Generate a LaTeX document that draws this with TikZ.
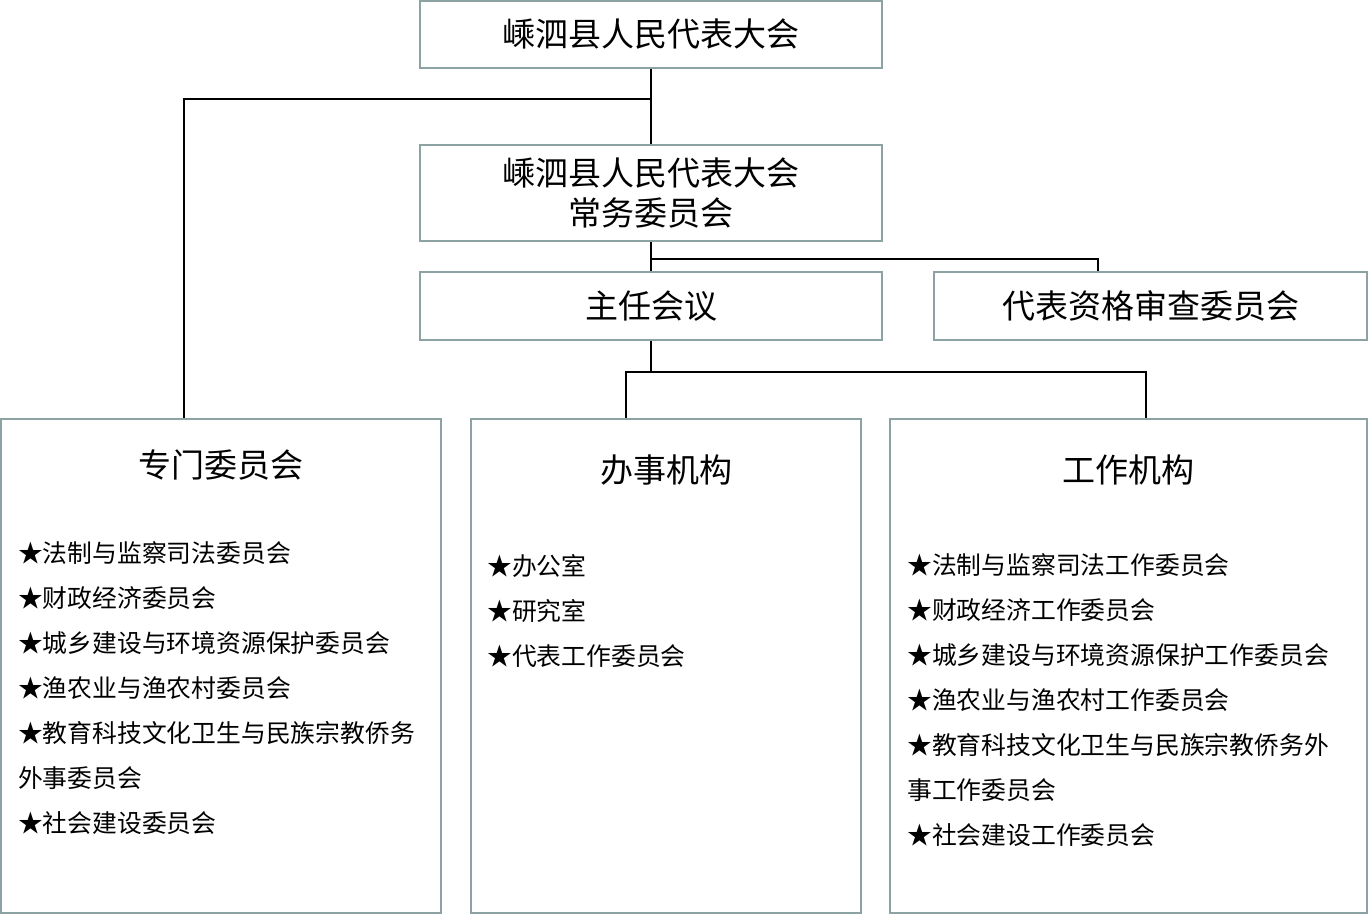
\documentclass[tikz,border=0pt]{standalone}
\usepackage{fontspec}
\setmainfont{Noto Sans CJK SC}
\usetikzlibrary{calc}
\definecolor{boxgrey}{HTML}{8DA3A3}
\tikzset{
  box/.style={draw=boxgrey, line width=1.8pt, fill=white, inner sep=0pt, align=center,
    font=\fontsize{33}{40}\selectfont},
  title/.style={inner sep=0pt, font=\fontsize{33}{40}\selectfont},
  item/.style={inner sep=0pt, anchor=west, font=\fontsize{24.8}{30}\selectfont},
  conn/.style={draw=black, line width=1.8pt}
}
\begin{document}
\begin{tikzpicture}[x=1pt,y=-1pt]
\useasboundingbox (0,0) rectangle (1369,915);
% boxes
\node[box, minimum width=462pt, minimum height=67pt] (top) at (651,34.5) {嵊泗县人民代表大会};
\node[box, minimum width=462pt, minimum height=96pt] (std) at (651,193) {嵊泗县人民代表大会\\常务委员会};
\node[box, minimum width=462pt, minimum height=68pt] (zr) at (651,306) {主任会议};
\node[box, minimum width=433pt, minimum height=68pt] (db) at (1150.5,306) {代表资格审查委员会};
\node[box, minimum width=440pt, minimum height=494pt] (zm) at (221,666) {};
\node[box, minimum width=390pt, minimum height=494pt] (bs) at (666,666) {};
\node[box, minimum width=477pt, minimum height=494pt] (gz) at (1128.5,666) {};
% titles
\node[title] (zmt) at (221,465) {专门委员会};
\node[title] (bst) at (666,470) {办事机构};
\node[title] (gzt) at (1128.5,470) {工作机构};
% left list
\node[item] (zm1) at (18,553) {★法制与监察司法委员会};
\node[item] (zm2) at (18,598) {★财政经济委员会};
\node[item] (zm3) at (18,643) {★城乡建设与环境资源保护委员会};
\node[item] (zm4) at (18,688) {★渔农业与渔农村委员会};
\node[item] (zm5) at (18,733) {★教育科技文化卫生与民族宗教侨务};
\node[item] (zm6) at (18,778) {外事委员会};
\node[item] (zm7) at (18,823) {★社会建设委员会};
% middle list
\node[item] (bs1) at (487,566) {★办公室};
\node[item] (bs2) at (487,611) {★研究室};
\node[item] (bs3) at (487,656) {★代表工作委员会};
% right list
\node[item] (gz1) at (907,565) {★法制与监察司法工作委员会};
\node[item] (gz2) at (907,610) {★财政经济工作委员会};
\node[item] (gz3) at (907,655) {★城乡建设与环境资源保护工作委员会};
\node[item] (gz4) at (907,700) {★渔农业与渔农村工作委员会};
\node[item] (gz5) at (907,745) {★教育科技文化卫生与民族宗教侨务外};
\node[item] (gz6) at (907,790) {事工作委员会};
\node[item] (gz7) at (907,835) {★社会建设工作委员会};
% connectors
\coordinate (j1) at ($(top.south)+(0,30)$);
\coordinate (j2) at ($(std.south)+(0,17)$);
\coordinate (j3) at ($(zr.south)+(0,31)$);
\draw[conn] (top.south) -- (std.north);
\draw[conn] (j1) -| ($(zm.north)+(-37,0)$);
\draw[conn] (std.south) -- (zr.north);
\draw[conn] (j2) -| ($(db.north)+(-52.5,0)$);
\draw[conn] (zr.south) -- (j3);
\draw[conn] ($(bs.north)+(-40,0)$) |- (j3);
\draw[conn] (j3) -| ($(gz.north)+(17.5,0)$);
\end{tikzpicture}
\end{document}
